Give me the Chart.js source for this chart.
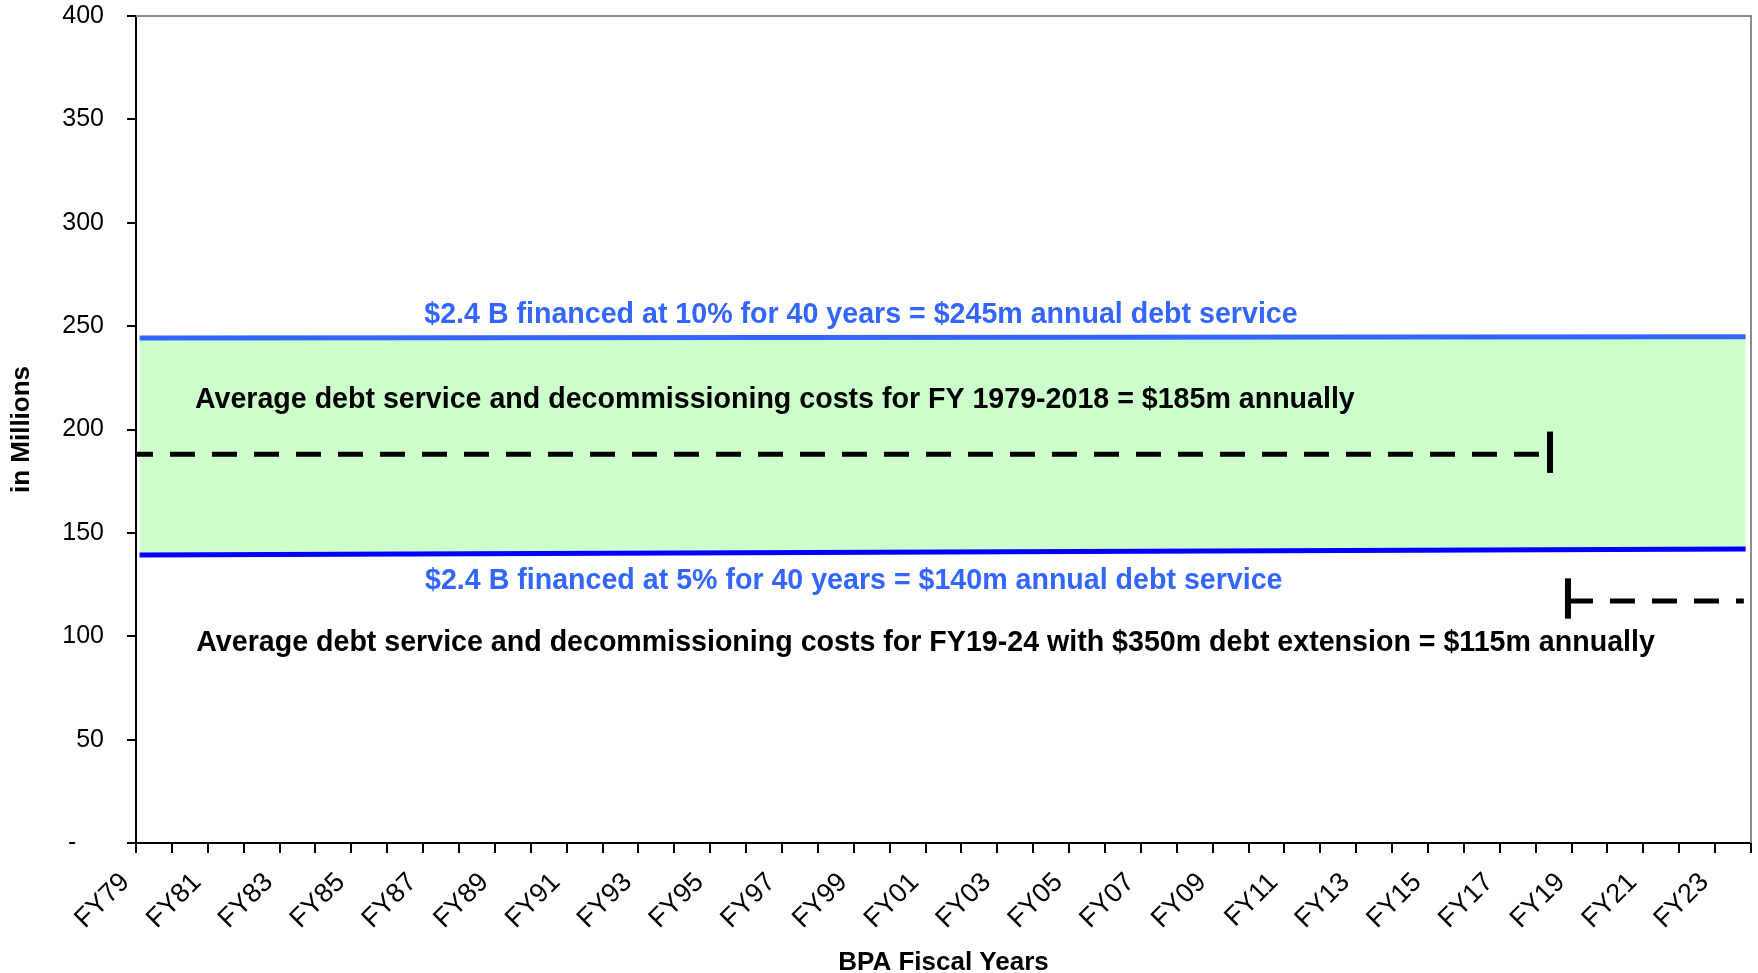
<!DOCTYPE html>
<html>
<head>
<meta charset="utf-8">
<script src="https://cdn.jsdelivr.net/npm/chart.js@4.4.0/dist/chart.umd.min.js"></script>
<style>
  html, body { margin: 0; padding: 0; background: #fff; }
  canvas { display: block; }
</style>
</head>
<body>
<canvas id="chart" width="1758" height="973"></canvas>
<script>
// x axis: one tick per fiscal year, label on every other one
const firstYear = 1979;
const lastYear = 2024;
const tickLabels = ['FY79', 'FY81', 'FY83', 'FY85', 'FY87', 'FY89', 'FY91', 'FY93', 'FY95', 'FY97', 'FY99',
    'FY01', 'FY03', 'FY05', 'FY07', 'FY09', 'FY11', 'FY13', 'FY15', 'FY17', 'FY19', 'FY21', 'FY23'];

// financing band (in millions)
const bandYears = [1979.1, 2023.85];
const debt10pct = [244.3, 244.9];
const debt5pct = [139.3, 142.2];

// average debt service + decommissioning
const pastAvgYears = [1979, 2018.4];
const pastAvg = [188, 188];
const pastCapY = [179, 199];
const futureAvgYears = [2018.9, 2023.8];
const futureAvg = [117, 117];
const futureCapY = [108.5, 128];

const notes = [
    '$2.4 B financed at 10% for 40 years = $245m annual debt service',
    'Average debt service and decommissioning costs for FY 1979-2018 = $185m annually',
    '$2.4 B financed at 5% for 40 years = $140m annual debt service',
    'Average debt service and decommissioning costs for FY19-24 with $350m debt extension = $115m annually',
];

Chart.defaults.font.family = '"Liberation Sans", Arial, sans-serif';
Chart.defaults.color = '#000';

const pts = (xs, ys) => xs.map((x, i) => ({ x: x, y: ys[i] }));

// where the notes sit, in data units
const noteSpots = [
    { x: 1999.2, y: 251.5, color: '#3366ff' },
    { x: 1996.8, y: 210.4, color: '#000' },
    { x: 1999.0, y: 122.9, color: '#3366ff' },
    { x: 2001.0, y: 92.9, color: '#000' },
];

const notesPlugin = {
    id: 'notes',
    afterDatasetsDraw(chart) {
        const { ctx, chartArea, scales } = chart;
        ctx.save();
        // grey frame on top and right
        ctx.strokeStyle = '#8c8c8c';
        ctx.lineWidth = 2;
        ctx.beginPath();
        ctx.moveTo(chartArea.left, chartArea.top);
        ctx.lineTo(chartArea.right, chartArea.top);
        ctx.lineTo(chartArea.right, chartArea.bottom);
        ctx.stroke();

        ctx.font = 'bold 28.6px "Liberation Sans", Arial, sans-serif';
        ctx.textAlign = 'center';
        ctx.textBaseline = 'alphabetic';
        notes.forEach((t, i) => {
            const s = noteSpots[i];
            ctx.fillStyle = s.color;
            ctx.fillText(t, scales.x.getPixelForValue(s.x), scales.y.getPixelForValue(s.y));
        });
        ctx.restore();
    }
};

new Chart(document.getElementById('chart').getContext('2d'), {
    type: 'line',
    data: {
        datasets: [
            {
                label: '10%',
                data: pts(bandYears, debt10pct),
                borderColor: '#3366ff',
                borderWidth: 5,
                backgroundColor: '#ccffcc',
                fill: '+1',
                pointRadius: 0,
            },
            {
                label: '5%',
                data: pts(bandYears, debt5pct),
                borderColor: '#0000ff',
                borderWidth: 5,
                fill: false,
                pointRadius: 0,
            },
            {
                label: 'avg 1979-2018',
                data: pts(pastAvgYears, pastAvg),
                borderColor: '#000',
                borderWidth: 5,
                borderDash: [25, 17],
                borderDashOffset: 8,
                borderCapStyle: 'butt',
                fill: false,
                pointRadius: 0,
            },
            {
                label: 'cap 1',
                data: pts([pastAvgYears[1], pastAvgYears[1]], pastCapY),
                borderColor: '#000',
                borderWidth: 6,
                fill: false,
                pointRadius: 0,
            },
            {
                label: 'avg 19-24',
                data: pts(futureAvgYears, futureAvg),
                borderColor: '#000',
                borderWidth: 5,
                borderDash: [25, 17],
                borderCapStyle: 'butt',
                fill: false,
                pointRadius: 0,
            },
            {
                label: 'cap 2',
                data: pts([futureAvgYears[0], futureAvgYears[0]], futureCapY),
                borderColor: '#000',
                borderWidth: 6,
                fill: false,
                pointRadius: 0,
            },
        ],
    },
    options: {
        responsive: false,
        animation: false,
        layout: { padding: { left: 0, right: 7, top: 16, bottom: 0 } },
        plugins: {
            legend: { display: false },
            tooltip: { enabled: false },
            filler: { drawTime: 'beforeDatasetsDraw' },
        },
        scales: {
            x: {
                type: 'linear',
                min: firstYear,
                max: lastYear,
                afterFit: (s) => { s.height = 130; s.paddingLeft = 0; s.paddingRight = 0; },
                grid: { drawOnChartArea: false, color: '#000', lineWidth: 2, tickLength: 10 },
                border: { color: '#000', width: 2 },
                ticks: {
                    stepSize: 1,
                    autoSkip: false,
                    minRotation: 45,
                    maxRotation: 45,
                    padding: 3,
                    font: { size: 27 },
                    callback: (v) => {
                        const i = v - firstYear;
                        return i % 2 === 0 ? tickLabels[i / 2] + '  ' : '';
                    },
                },
                title: {
                    display: true,
                    text: 'BPA Fiscal Years',
                    font: { size: 26, weight: 'bold', lineHeight: 0.75 },
                    padding: { top: 0, bottom: 0 },
                },
            },
            y: {
                min: 0,
                max: 400,
                afterFit: (s) => { s.width = 136; s.paddingTop = 0; s.paddingBottom = 0; },
                grid: { drawOnChartArea: false, color: '#000', lineWidth: 2, tickLength: 9 },
                border: { color: '#000', width: 2 },
                ticks: {
                    stepSize: 50,
                    padding: 23,
                    font: { size: 25 },
                    callback: (v) => (v === 0 ? '-    ' : v),
                },
                title: {
                    display: true,
                    text: 'in Millions',
                    font: { size: 26, weight: 'bold' },
                    padding: { top: 6, bottom: 0 },
                },
            },
        },
    },
    plugins: [notesPlugin],
});
</script>
</body>
</html>
